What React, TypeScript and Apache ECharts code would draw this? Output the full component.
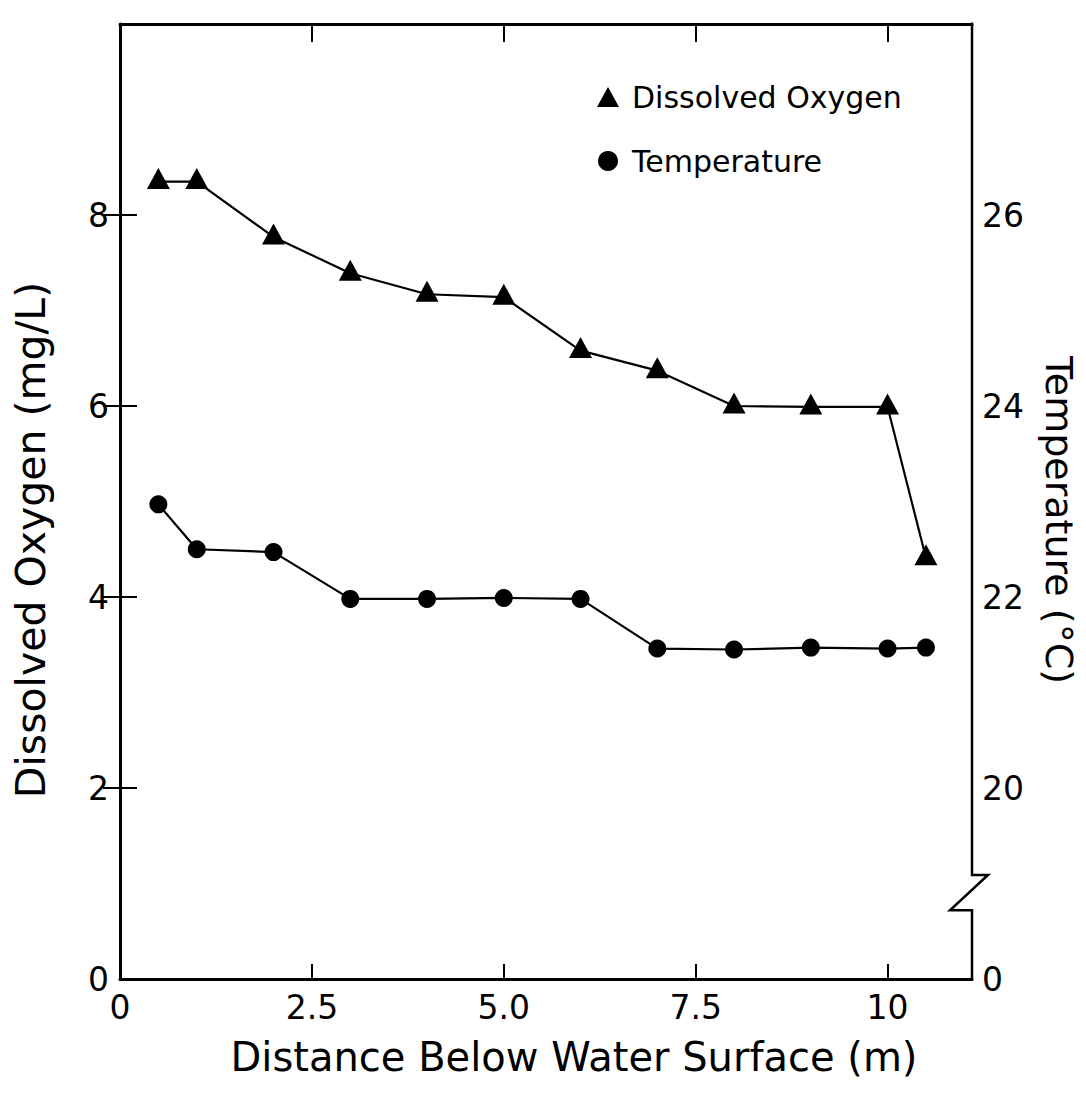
import { useEffect, useRef } from "react";
import * as echarts from "echarts";

// Depth profile of dissolved oxygen and temperature
const depthM = [0.5, 1, 2, 3, 4, 5, 6, 7, 8, 9, 10, 10.5];
const dissolvedOxygen = [8.35, 8.35, 7.77, 7.39, 7.17, 7.14, 6.58, 6.37, 6.0, 5.99, 5.99, 4.41];
const temperatureC = [22.97, 22.5, 22.47, 21.98, 21.98, 21.99, 21.98, 21.46, 21.45, 21.47, 21.46, 21.47];

// Axis ticks and their printed labels
const depthTicks = [0, 2.5, 5, 7.5, 10];
const depthTickLabels = ["0", "2.5", "5.0", "7.5", "10"];
const oxygenTicks = [0, 2, 4, 6, 8];
const oxygenTickLabels = ["0", "2", "4", "6", "8"];
const tempTicks = [18, 20, 22, 24, 26];
const tempTickLabels = ["0", "20", "22", "24", "26"];

const DEPTH_MAX = 11.1;
const OXYGEN_MAX = 10;
const TEMP_MIN = 18;
const TEMP_MAX = 28;
// where the temperature axis is broken (in oxygen-axis units)
const BREAK_HI = 1.09;
const BREAK_LO = 0.72;

const FONT = '"DejaVu Sans", "Noto Sans", sans-serif';
const INK = "#000";

const labelFor = (ticks: number[], labels: string[]) => (v: number) => {
  const i = ticks.findIndex((t) => Math.abs(t - v) < 1e-9);
  return i >= 0 ? labels[i] : "";
};

export default function App() {
  const ref = useRef<HTMLDivElement>(null);

  useEffect(() => {
    if (!ref.current) return;
    const chart = echarts.init(ref.current, null, { renderer: "svg" });

    const tickLabelStyle = { color: INK, fontFamily: FONT, fontSize: 33 };

    chart.setOption({
      animation: false,
      backgroundColor: "#fff",
      textStyle: { fontFamily: FONT, color: INK },
      grid: { left: 120, top: 24, width: 852, height: 955, containLabel: false },
      legend: {
        orient: "vertical",
        left: 592,
        top: 77,
        itemWidth: 22,
        itemHeight: 20,
        itemGap: 34,
        selectedMode: false,
        data: [
          { name: "Dissolved Oxygen", icon: "triangle" },
          { name: "Temperature", icon: "circle" },
        ],
        formatter: (name: string) => `{t|${name}}`,
        textStyle: {
          rich: {
            t: { fontFamily: FONT, fontSize: 30, color: INK, padding: [0, 0, 0, 8] },
          },
        },
      },
      xAxis: [
        {
          type: "value",
          position: "bottom",
          min: 0,
          max: DEPTH_MAX,
          splitLine: { show: false },
          axisLine: { onZero: false, lineStyle: { color: INK, width: 3 } },
          axisTick: {
            inside: true,
            length: 15,
            customValues: depthTicks.filter((v) => v > 0),
            lineStyle: { color: INK, width: 2 },
          },
          axisLabel: {
            ...tickLabelStyle,
            margin: 12,
            customValues: depthTicks,
            formatter: labelFor(depthTicks, depthTickLabels),
          },
        },
        {
          type: "value",
          position: "top",
          min: 0,
          max: DEPTH_MAX,
          splitLine: { show: false },
          axisLine: { onZero: false, lineStyle: { color: INK, width: 3 } },
          axisTick: {
            inside: true,
            length: 18,
            customValues: depthTicks.filter((v) => v > 0),
            lineStyle: { color: INK, width: 2 },
          },
          axisLabel: { show: false },
        },
      ],
      yAxis: [
        {
          type: "value",
          position: "left",
          min: 0,
          max: OXYGEN_MAX,
          splitLine: { show: false },
          axisLine: { onZero: false, lineStyle: { color: INK, width: 3 } },
          axisTick: {
            inside: true,
            length: 17,
            customValues: oxygenTicks.filter((v) => v > 0),
            lineStyle: { color: INK, width: 2 },
          },
          axisLabel: {
            ...tickLabelStyle,
            margin: 11,
            customValues: oxygenTicks,
            formatter: labelFor(oxygenTicks, oxygenTickLabels),
          },
        },
        {
          type: "value",
          position: "right",
          min: TEMP_MIN,
          max: TEMP_MAX,
          splitLine: { show: false },
          axisLine: { show: false },
          axisTick: {
            show: true,
            inside: true,
            length: 17,
            customValues: tempTicks.filter((v) => v > TEMP_MIN),
            lineStyle: { color: INK, width: 2 },
          },
          axisLabel: {
            ...tickLabelStyle,
            margin: 10,
            customValues: tempTicks,
            formatter: labelFor(tempTicks, tempTickLabels),
          },
        },
      ],
      graphic: [
        {
          type: "text",
          x: 31,
          y: 540,
          rotation: Math.PI / 2,
          silent: true,
          style: {
            text: "Dissolved Oxygen (mg/L)",
            fontFamily: FONT,
            fontSize: 41,
            fill: INK,
            align: "center",
            verticalAlign: "middle",
          },
        },
        {
          type: "text",
          x: 1059,
          y: 520,
          rotation: -Math.PI / 2,
          silent: true,
          style: {
            text: "Temperature (°C)",
            fontFamily: FONT,
            fontSize: 38,
            fill: INK,
            align: "center",
            verticalAlign: "middle",
          },
        },
        {
          type: "text",
          x: 574,
          y: 1057,
          silent: true,
          style: {
            text: "Distance Below Water Surface (m)",
            fontFamily: FONT,
            fontSize: 40,
            fill: INK,
            align: "center",
            verticalAlign: "middle",
          },
        },
      ],
      series: [
        {
          name: "Dissolved Oxygen",
          type: "line",
          xAxisIndex: 0,
          yAxisIndex: 0,
          data: depthM.map((d, i) => [d, dissolvedOxygen[i]]),
          symbol: "triangle",
          symbolSize: [23, 21],
          symbolOffset: [0, -3],
          lineStyle: { color: INK, width: 2.2 },
          itemStyle: { color: INK },
          emphasis: { disabled: true },
          silent: true,
          z: 3,
        },
        {
          name: "Temperature",
          type: "line",
          xAxisIndex: 0,
          yAxisIndex: 1,
          data: depthM.map((d, i) => [d, temperatureC[i]]),
          symbol: "circle",
          symbolSize: 18,
          lineStyle: { color: INK, width: 2.2 },
          itemStyle: { color: INK },
          emphasis: { disabled: true },
          silent: true,
          z: 3,
        },
        {
          // right-hand frame edge with the temperature axis break
          name: "frame",
          type: "custom",
          xAxisIndex: 0,
          yAxisIndex: 0,
          silent: true,
          data: [[DEPTH_MAX, 0]],
          renderItem: (_params: any, api: any) => {
            const top = api.coord([DEPTH_MAX, OXYGEN_MAX]);
            const hi = api.coord([DEPTH_MAX, BREAK_HI]);
            const lo = api.coord([DEPTH_MAX, BREAK_LO]);
            const bot = api.coord([DEPTH_MAX, 0]);
            const x = top[0];
            return {
              type: "polyline",
              shape: {
                points: [
                  [x, top[1] - 1.5],
                  [x, hi[1]],
                  [x + 16, hi[1]],
                  [x - 22, lo[1]],
                  [x, lo[1]],
                  [x, bot[1] + 1.5],
                ],
              },
              style: { stroke: INK, lineWidth: 2.5, fill: "none" },
            };
          },
        },
      ],
    });

    return () => chart.dispose();
  }, []);

  return (
    <div
      ref={ref}
      style={{ position: "absolute", left: 0, top: 0, width: 1086, height: 1107, overflow: "hidden" }}
    />
  );
}
